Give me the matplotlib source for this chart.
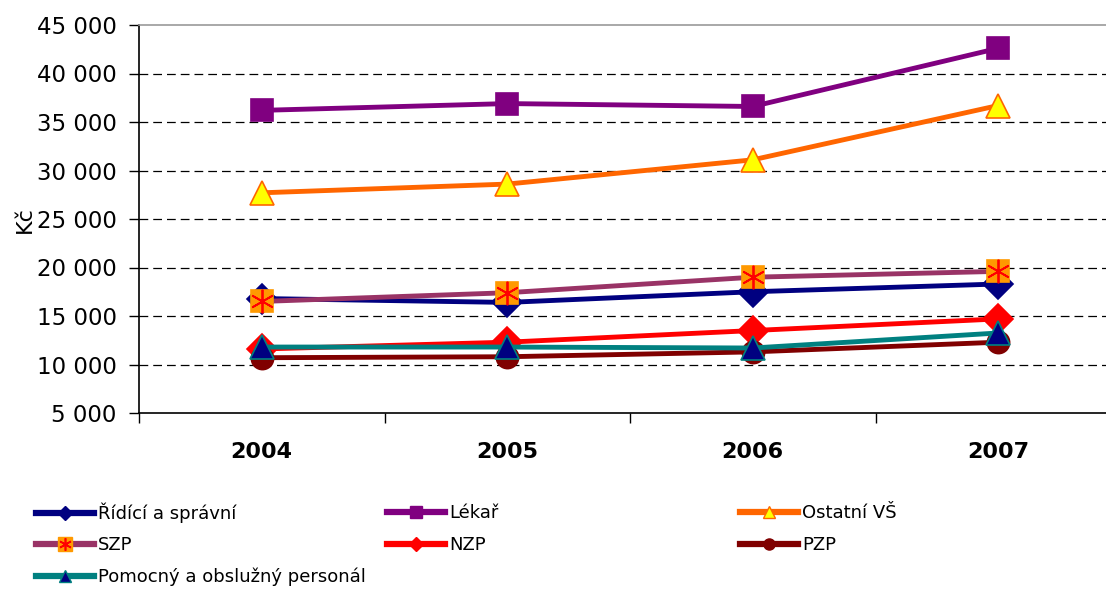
import matplotlib
matplotlib.use("Agg")
import matplotlib.pyplot as plt
from matplotlib.lines import Line2D
from matplotlib.ticker import FuncFormatter, FixedLocator

plt.rcParams['font.family'] = ['DejaVu Sans']

years = ['2004', '2005', '2006', '2007']

ridici = [16800, 16400, 17500, 18300]
lekar = [36200, 36900, 36600, 42600]
ostatni_vs = [27700, 28600, 31100, 36700]
szp = [16500, 17400, 19000, 19600]
nzp = [11600, 12300, 13500, 14700]
pzp = [10700, 10800, 11300, 12300]
pomocny = [11800, 11800, 11700, 13250]

labels = ['Řídící a správní', 'Lékař', 'Ostatní VŠ', 'SZP', 'NZP', 'PZP',
          'Pomocný a obslužný personál']

# line colour, marker, face, edge, size
styles = [
    ('#000080', 'D', '#000080', '#000080', 15),
    ('#800080', 's', '#800080', '#800080', 16.5),
    ('#FF6600', '^', '#FFFF00', '#FF6600', 17.5),
    ('#993366', 's', '#FF9900', '#FF9900', 16.5),
    ('#FF0000', 'D', '#FF0000', '#FF0000', 15),
    ('#800000', 'o', '#800000', '#800000', 16),
    ('#008080', '^', '#000080', '#008080', 17.5),
]
series = [ridici, lekar, ostatni_vs, szp, nzp, pzp, pomocny]

fig = plt.figure(figsize=(11.06, 5.92), dpi=100)
ax = fig.add_axes([139/1106, 1-413/592, (1121-139)/1106, 388/592])

x = list(range(len(years)))
lw = 3.5
for i, (vals, st) in enumerate(zip(series, styles)):
    col, mk, fc, ec, ms = st
    ax.plot(x, vals, color=col, lw=lw, marker=mk, ms=ms, mfc=fc, mec=ec,
            mew=1.2, zorder=3 + i, solid_joinstyle='round')
    if labels[i] == 'SZP':
        ax.plot(x, vals, ls='none', marker=(6, 2, 0), ms=17, mec='#FF0000',
                mew=1.3, zorder=3 + i)

ax.set_xlim(-0.5, 3.5)
ax.set_ylim(5000, 45000)
ax.set_xticks(x)
ax.set_xticklabels(years, fontsize=16, fontweight='bold')
ax.tick_params(axis='x', which='major', length=0, pad=21)
ax.xaxis.set_minor_locator(FixedLocator([-0.5, 0.5, 1.5, 2.5, 3.5]))
ax.tick_params(axis='x', which='minor', length=7, width=1, direction='out')

ax.set_yticks(range(5000, 45001, 5000))
ax.yaxis.set_major_formatter(FuncFormatter(lambda v, p: f"{int(v):,}".replace(",", " ")))
ax.tick_params(axis='y', labelsize=16.5, length=7, width=1, pad=9)

for yv in range(10000, 40001, 5000):
    ax.axhline(yv, color='black', lw=0.9, ls=(0, (7, 4)), zorder=1)

ax.spines['top'].set_color('#999999')
ax.spines['top'].set_linewidth(1.2)
ax.spines['right'].set_visible(False)
ax.spines['left'].set_linewidth(1.2)
ax.spines['bottom'].set_linewidth(1.2)

fig.text(25/1106, 1-220/592, 'Kč', rotation=90, ha='center', va='center', fontsize=16)

# legend: one entry per position, three columns filled row by row
col_x = [36, 387, 740]
row_y = [513, 545, 577]
for i, st in enumerate(styles):
    col, mk, fc, ec, ms = st
    h = Line2D([], [], color=col, lw=4.5, marker=mk, ms=8 if mk != 'D' else 7,
               mfc=fc, mec=ec, mew=1)
    if labels[i] == 'SZP':
        h = (Line2D([], [], color=col, lw=4.5, marker='s', ms=10, mfc=fc, mec=ec),
             Line2D([], [], ls='none', marker=(6, 2, 0), ms=9, mec='#FF0000', mew=1.2))
    r, c = divmod(i, 3)
    leg = fig.legend([h], [labels[i]], loc='center left',
                     bbox_to_anchor=(col_x[c]/1106, 1-row_y[r]/592),
                     frameon=False, fontsize=13, handlelength=3.2, handletextpad=0.25,
                     borderpad=0, borderaxespad=0)

fig.savefig('out.png', dpi=100)
